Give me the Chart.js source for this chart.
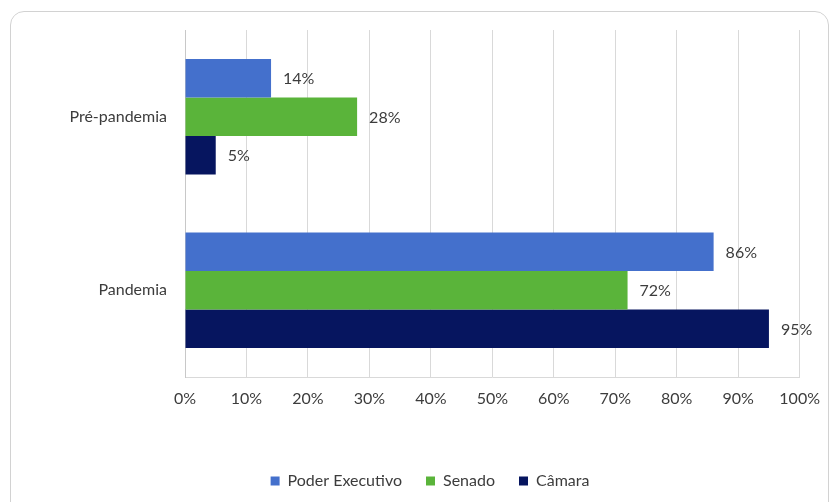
<!DOCTYPE html>
<html lang="pt">
<head>
<meta charset="utf-8">
<title>Pré-pandemia vs Pandemia</title>
<script src="https://cdn.jsdelivr.net/npm/chart.js@4.4.1/dist/chart.umd.min.js"></script>
<style>
  html, body { margin: 0; padding: 0; background: #ffffff; }
  #wrap { position: relative; width: 832px; height: 502px; overflow: hidden; }
  #frame {
    position: absolute; left: 10px; top: 11px; width: 819px; height: 520px;
    border: 1.5px solid #d2d2d2; border-radius: 14px; box-sizing: border-box;
    pointer-events: none;
  }
  canvas { position: absolute; left: 0; top: 0; }
</style>
</head>
<body>
<div id="wrap">
  <canvas id="chart" width="832" height="502"></canvas>
  <div id="frame"></div>
</div>
<script>
// Periods compared
const categories = ['Pré-pandemia', 'Pandemia'];

// Share per institution (%)
const seriesNames = ['Poder Executivo', 'Senado', 'Câmara'];
const poderExecutivo = [14, 86];
const senado = [28, 72];
const camara = [5, 95];

const seriesColors = ['#4470CC', '#5AB43A', '#06155F'];

const FONT = 'Lato, "Open Sans", sans-serif';
const TEXT = '#3c3c3c';
const SIZE = 16;

// Percentage labels drawn just past the end of each bar
const barValueLabels = {
  id: 'barValueLabels',
  afterDatasetsDraw(chart) {
    const ctx = chart.ctx;
    ctx.save();
    ctx.font = SIZE + 'px ' + FONT;
    ctx.fillStyle = TEXT;
    ctx.textAlign = 'left';
    ctx.textBaseline = 'middle';
    chart.data.datasets.forEach((ds, i) => {
      const meta = chart.getDatasetMeta(i);
      meta.data.forEach((bar, j) => {
        ctx.fillText(ds.data[j] + '%', bar.x + 12, bar.y + 1);
      });
    });
    ctx.restore();
  }
};

new Chart(document.getElementById('chart'), {
  type: 'bar',
  data: {
    labels: categories,
    datasets: [
      { label: seriesNames[0], data: poderExecutivo, backgroundColor: seriesColors[0] },
      { label: seriesNames[1], data: senado, backgroundColor: seriesColors[1] },
      { label: seriesNames[2], data: camara, backgroundColor: seriesColors[2] }
    ]
  },
  options: {
    indexAxis: 'y',
    responsive: false,
    animation: false,
    devicePixelRatio: 1,
    layout: { padding: { top: 30, right: 30, bottom: 3, left: 58 } },
    datasets: {
      bar: { categoryPercentage: 0.667, barPercentage: 1.0, borderWidth: 0 }
    },
    scales: {
      x: {
        min: 0, max: 100,
        ticks: {
          stepSize: 10,
          padding: 12,
          color: TEXT,
          font: { family: FONT, size: SIZE },
          callback: v => v + '%'
        },
        grid: { color: '#d9d9d9', lineWidth: 1, drawTicks: false },
        border: { display: true, color: '#d9d9d9' },
        afterFit(scale) { scale.height = 72; }
      },
      y: {
        ticks: {
          padding: 18,
          color: TEXT,
          font: { family: FONT, size: SIZE }
        },
        grid: { display: false, drawTicks: false },
        border: { display: true, color: '#c8c8c8' },
        afterFit(scale) { scale.width = 127; }
      }
    },
    plugins: {
      legend: {
        position: 'bottom',
        labels: {
          boxWidth: 9,
          boxHeight: 9,
          padding: 24,
          color: TEXT,
          font: { family: FONT, size: SIZE }
        }
      },
      tooltip: { enabled: false }
    }
  },
  plugins: [barValueLabels]
});
</script>
</body>
</html>
